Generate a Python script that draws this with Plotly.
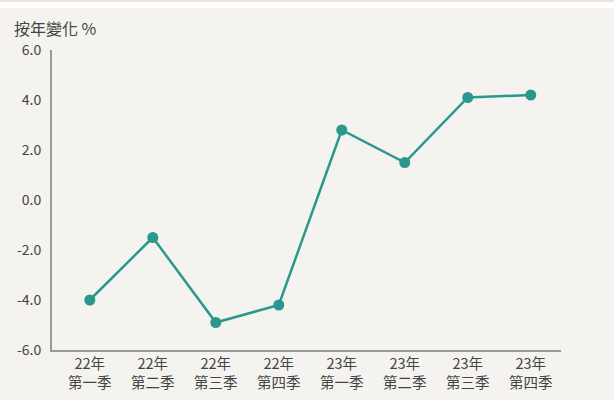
import plotly.graph_objects as go

categories = ["22年<br>第一季", "22年<br>第二季", "22年<br>第三季", "22年<br>第四季",
              "23年<br>第一季", "23年<br>第二季", "23年<br>第三季", "23年<br>第四季"]
values = [-4.0, -1.5, -4.9, -4.2, 2.8, 1.5, 4.1, 4.2]
y_ticks = [6, 4, 2, 0, -2, -4, -6]
y_tick_labels = ["6.0", "4.0", "2.0", "0.0", "-2.0", "-4.0", "-6.0"]

bg = "#f4f3ef"
teal = "#2a988b"
font_family = "Noto Sans CJK TC"

fig = go.Figure()
fig.add_trace(go.Scatter(
    x=list(range(len(categories))), y=values, mode="lines+markers",
    line=dict(color=teal, width=2.5),
    marker=dict(color=teal, size=11),
    hoverinfo="skip", showlegend=False, cliponaxis=False,
))

fig.update_layout(
    width=614, height=400,
    margin=dict(l=52, r=53, t=50, b=50, autoexpand=False),
    paper_bgcolor=bg, plot_bgcolor=bg,
    font=dict(family=font_family, color="#444444", size=14),
    xaxis=dict(
        range=[-0.6, 7.48], tickmode="array",
        tickvals=list(range(len(categories))), ticktext=categories,
        showgrid=False, zeroline=False, showline=True,
        linecolor="#9a9a9a", linewidth=2, ticks="", automargin=False,
        tickfont=dict(size=14.5, color="#444444"),
    ),
    yaxis=dict(
        range=[-6, 6], tickmode="array", tickvals=y_ticks, ticktext=y_tick_labels,
        showgrid=False, zeroline=False, showline=True,
        linecolor="#9a9a9a", linewidth=2, ticks="", automargin=False,
        ticklabelstandoff=6,
        tickfont=dict(size=14, color="#444444"),
    ),
    shapes=[
        dict(type="rect", xref="paper", yref="paper", x0=-0.2, x1=1.2,
             y0=1 + 42 / 300, y1=1 + 48 / 300, fillcolor="#ffffff", line=dict(width=0), layer="below"),
        dict(type="rect", xref="paper", yref="paper", x0=-0.2, x1=1.2,
             y0=1 + 48 / 300, y1=1 + 51 / 300, fillcolor="#ece4d6", line=dict(width=0), layer="below"),
    ],
    annotations=[
        dict(text="按年變化 %", xref="paper", yref="paper",
             x=-40 / 509, y=1 + 22 / 300, xanchor="left", yanchor="middle",
             showarrow=False, font=dict(size=16, color="#444444", family=font_family)),
    ],
)

fig.write_html("out.html", config={"displayModeBar": False},
               post_script="document.body.style.margin='0';document.body.style.overflow='hidden';")
